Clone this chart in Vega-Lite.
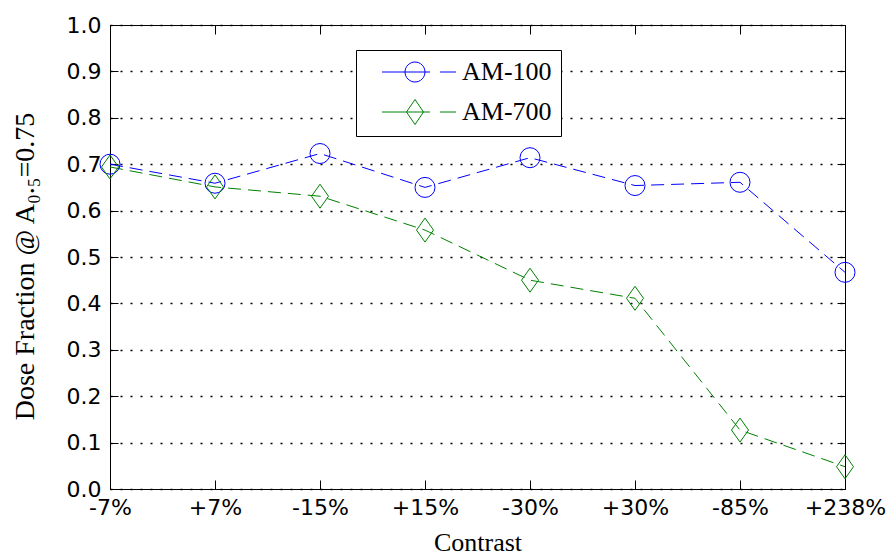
{
  "$schema": "https://vega.github.io/schema/vega-lite/v6.json",
  "width": 735,
  "height": 464,
  "autosize": "none",
  "padding": {"left": 110, "top": 25, "right": 43, "bottom": 67},
  "background": "white",
  "config": {
    "view": {"stroke": "black", "strokeWidth": 1},
    "axis": {
      "domainColor": "black",
      "domainWidth": 1,
      "tickColor": "black",
      "tickWidth": 1,
      "labelColor": "black",
      "labelFont": "DejaVu Sans",
      "labelFontSize": 22,
      "titleFont": "Liberation Serif",
      "titleFontSize": 26,
      "titleFontWeight": "normal",
      "titleColor": "black"
    }
  },
  "data": {
    "values": [
      {"contrast": "-7%", "series": "AM-100", "dose": 0.700},
      {"contrast": "+7%", "series": "AM-100", "dose": 0.659},
      {"contrast": "-15%", "series": "AM-100", "dose": 0.723},
      {"contrast": "+15%", "series": "AM-100", "dose": 0.650},
      {"contrast": "-30%", "series": "AM-100", "dose": 0.714},
      {"contrast": "+30%", "series": "AM-100", "dose": 0.654},
      {"contrast": "-85%", "series": "AM-100", "dose": 0.661},
      {"contrast": "+238%", "series": "AM-100", "dose": 0.467},
      {"contrast": "-7%", "series": "AM-700", "dose": 0.694},
      {"contrast": "+7%", "series": "AM-700", "dose": 0.651},
      {"contrast": "-15%", "series": "AM-700", "dose": 0.631},
      {"contrast": "+15%", "series": "AM-700", "dose": 0.558},
      {"contrast": "-30%", "series": "AM-700", "dose": 0.450},
      {"contrast": "+30%", "series": "AM-700", "dose": 0.411},
      {"contrast": "-85%", "series": "AM-700", "dose": 0.127},
      {"contrast": "+238%", "series": "AM-700", "dose": 0.048}
    ]
  },
  "layer": [
    {
      "mark": {"type": "line", "strokeDash": [13, 7], "strokeWidth": 1},
      "encoding": {
        "x": {
          "field": "contrast", "type": "ordinal",
          "sort": ["-7%", "+7%", "-15%", "+15%", "-30%", "+30%", "-85%", "+238%"],
          "scale": {"type": "point", "padding": 0},
          "axis": {"orient": "bottom", "title": "Contrast", "labelAngle": 0, "tickSize": -9, "labelPadding": 17, "grid": false, "titleBaseline": "alphabetic", "titleY": 61}
        },
        "y": {
          "field": "dose", "type": "quantitative",
          "scale": {"domain": [0, 1], "nice": false, "zero": false},
          "axis": {"orient": "left", "title": "Dose Fraction @ A₀.₅=0.75", "titleFontSize": 28, "values": [0, 0.1, 0.2, 0.3, 0.4, 0.5, 0.6, 0.7, 0.8, 0.9, 1.0], "format": ".1f", "tickSize": -8, "labelPadding": 17, "grid": true, "gridColor": "black", "gridDash": [2, 8], "gridWidth": 1.5, "gridOpacity": 1, "titleX": -85, "titleY": 241, "titleAngle": -90, "titleBaseline": "middle", "titleAlign": "center"}
        },
        "color": {
          "field": "series", "type": "nominal",
          "scale": {"domain": ["AM-100", "AM-700"], "range": ["#0000ff", "#008000"]},
          "legend": {
            "orient": "none", "legendX": 246, "legendY": 25, "title": null,
            "fillColor": "white", "strokeColor": "black", "padding": 9,
            "symbolSize": 400, "symbolStrokeWidth": 1, "symbolDash": [], "symbolFillColor": "transparent",
            "labelFont": "Liberation Serif", "labelFontSize": 26, "labelColor": "black", "labelOffset": 71, "rowPadding": 12,
            "encode": {
              "symbols": {
                "update": {
                  "shape": {"signal": "datum.value === 'AM-100' ? 'M0.4,0H2.7M2.7,0A1,1,0,1,1,4.7,0A1,1,0,1,1,2.7,0M2.7,0H5.2M6.2,0H7.8' : 'M0.4,0H2.85M3.7,-1.25L4.55,0L3.7,1.25L2.85,0ZM2.85,0H5.2M6.2,0H7.8'"},
                  "stroke": {"signal": "datum.value === 'AM-100' ? '#0000ff' : '#008000'"},
                  "fill": {"value": "transparent"},
                  "strokeDash": {"value": []},
                  "strokeWidth": {"value": 1}
                }
              }
            }
          }
        }
      }
    },
    {
      "transform": [{"filter": "datum.series === 'AM-100'"}],
      "mark": {"type": "point", "shape": "circle", "filled": false, "strokeWidth": 1, "size": 400, "opacity": 1},
      "encoding": {
        "x": {
          "field": "contrast", "type": "ordinal",
          "sort": ["-7%", "+7%", "-15%", "+15%", "-30%", "+30%", "-85%", "+238%"],
          "scale": {"type": "point", "padding": 0},
          "axis": {"orient": "top", "title": null, "labels": false, "tickSize": -9, "grid": false}
        },
        "y": {
          "field": "dose", "type": "quantitative",
          "scale": {"domain": [0, 1], "nice": false, "zero": false},
          "axis": {"orient": "right", "title": null, "labels": false, "values": [0, 0.1, 0.2, 0.3, 0.4, 0.5, 0.6, 0.7, 0.8, 0.9, 1.0], "tickSize": -8, "grid": false}
        },
        "color": {"field": "series", "type": "nominal"}
      }
    },
    {
      "transform": [{"filter": "datum.series === 'AM-700'"}],
      "mark": {"type": "point", "shape": "M0,-1.2L0.85,0L0,1.2L-0.85,0Z", "filled": false, "strokeWidth": 1, "size": 400, "opacity": 1},
      "encoding": {
        "x": {
          "field": "contrast", "type": "ordinal",
          "sort": ["-7%", "+7%", "-15%", "+15%", "-30%", "+30%", "-85%", "+238%"],
          "scale": {"type": "point", "padding": 0},
          "axis": null
        },
        "y": {
          "field": "dose", "type": "quantitative",
          "scale": {"domain": [0, 1], "nice": false, "zero": false},
          "axis": null
        },
        "color": {"field": "series", "type": "nominal"}
      }
    }
  ],
  "resolve": {"axis": {"x": "independent", "y": "independent"}}
}
